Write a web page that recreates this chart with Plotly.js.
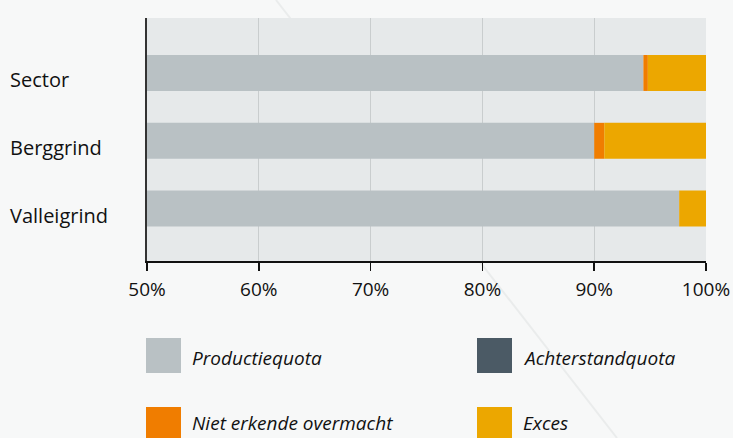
<!DOCTYPE html>
<html>
<head>
<meta charset="utf-8">
<script src="https://cdn.plot.ly/plotly-3.0.1.min.js"></script>
<style>html,body{margin:0;padding:0;background:#f7f8f8;}#chart{width:733px;height:438px;}</style>
</head>
<body>
<div id="chart"></div>
<script>
const categories = ['Sector', 'Berggrind', 'Valleigrind'];
const seriesNames = ['Productiequota', 'Achterstandquota', 'Niet erkende overmacht', 'Exces'];
const productiequota = [94.4, 90.0, 97.6];
const achterstandquota = [0, 0, 0];
const nietErkendeOvermacht = [0.4, 0.9, 0];
const exces = [5.2, 9.1, 2.4];
const tickValues = [50, 60, 70, 80, 90, 100];
const tickLabels = ['50%', '60%', '70%', '80%', '90%', '100%'];

const colors = ['#b9c1c4', '#4b5a65', '#f07d00', '#eca700'];
const seriesValues = [productiequota, achterstandquota, nietErkendeOvermacht, exces];

const W = 733, H = 438;
const L = 147, R = 27, T = 18, B = 177;
const pw = W - L - R, ph = H - T - B;
const px = x => (x - L) / pw;
const py = y => (H - B - y) / ph;

const traces = seriesValues.map((vals, i) => ({
  type: 'bar',
  orientation: 'h',
  name: seriesNames[i],
  y: categories,
  x: vals,
  base: vals.map((v, k) => {
    let s = 0;
    for (let j = 0; j < i; j++) s += seriesValues[j][k];
    return s;
  }),
  width: 0.53,
  marker: {color: colors[i], line: {width: 0}},
  showlegend: false,
  hoverinfo: 'skip'
}));

const shapes = [
  {type: 'line', xref: 'paper', yref: 'paper', x0: px(276), y0: py(0), x1: px(617), y1: py(438),
   line: {color: '#eaecec', width: 2}, layer: 'below'},
  {type: 'rect', xref: 'x domain', yref: 'y domain', x0: 0, x1: 1, y0: 0, y1: 1,
   fillcolor: '#e6e9ea', line: {width: 0}, layer: 'below'}
];
const annotations = [];

categories.forEach(c => {
  annotations.push({
    xref: 'paper', yref: 'y', x: px(8), y: c, xanchor: 'left', yanchor: 'middle', yshift: -7,
    text: c, showarrow: false, font: {family: 'Open Sans', size: 20, color: '#111'}
  });
});

const legendPos = [[146, 338, 20], [477, 338, 20], [146, 407, 16], [477, 407, 16]];
seriesNames.forEach((n, i) => {
  const [lx, ly, dy] = legendPos[i];
  shapes.push({type: 'rect', xref: 'paper', yref: 'paper',
    x0: px(lx), x1: px(lx + 35), y0: py(ly), y1: py(ly + 35),
    fillcolor: colors[i], line: {width: 0}});
  annotations.push({
    xref: 'paper', yref: 'paper', x: px(lx + 44), y: py(ly + dy), xanchor: 'left', yanchor: 'middle',
    text: '<i>' + n + '</i>', showarrow: false,
    font: {family: 'Open Sans', size: 19, color: '#111'}
  });
});

const layout = {
  width: W, height: H,
  margin: {l: L, r: R, t: T, b: B, pad: 0},
  paper_bgcolor: '#f7f8f8',
  plot_bgcolor: '#e6e9ea',
  barmode: 'overlay',
  showlegend: false,
  xaxis: {
    range: [50, 100], tickvals: tickValues, ticktext: tickLabels,
    showgrid: true, gridcolor: '#c9cdce', gridwidth: 1,
    zeroline: false, showline: true, linecolor: '#111', linewidth: 1.5,
    ticks: 'outside', ticklen: 8, tickwidth: 1.5, tickcolor: '#111',
    tickfont: {family: 'Open Sans', size: 19, color: '#111'},
    ticklabelstandoff: 3, fixedrange: true
  },
  yaxis: {
    type: 'category', categoryorder: 'array', categoryarray: categories,
    range: [2.773, -0.811], showgrid: false, zeroline: false,
    showline: true, linecolor: '#333', linewidth: 2,
    ticks: '', showticklabels: false, fixedrange: true
  },
  shapes: shapes,
  annotations: annotations
};

Plotly.newPlot('chart', traces, layout, {displayModeBar: false, staticPlot: true});
</script>
</body>
</html>
